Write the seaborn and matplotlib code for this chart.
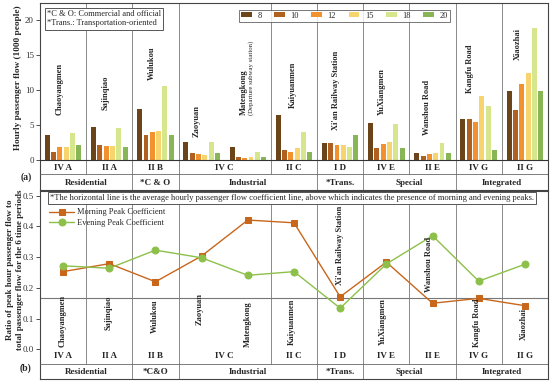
import numpy as np
import pandas as pd
import matplotlib
matplotlib.use("Agg")
import matplotlib.pyplot as plt
import seaborn as sns

# ---------------- data ----------------
stations = ["Chaoyangmen", "Sajinqiao", "Wulukou", "Zaoyuan", "Matengkong", "Kaiyuanmen",
            "Xi'an Railway Station", "YuXiangmen", "Wanshou Road", "Kangfu Road", "Xiaozhai"]
station_types = ["IV A", "II A", "II B", "IV C", "IV C", "II C", "I D", "IV E", "II E", "IV G", "II G"]
station_cats_a = ["Residential", "Residential", "*C & O", "Industrial", "Industrial", "Industrial",
                  "*Trans.", "Special", "Special", "Integrated", "Integrated"]
station_cats_b = ["Residential", "Residential", "*C&O", "Industrial", "Industrial", "Industrial",
                  "*Trans.", "Special", "Special", "Integrated", "Integrated"]
hours = ["8", "10", "12", "15", "18", "20"]
flow_8 = [3.57, 4.76, 7.24, 2.62, 1.86, 6.43, 2.48, 5.24, 1.00, 5.81, 9.81]
flow_10 = [1.19, 2.10, 3.62, 1.05, 0.48, 1.43, 2.38, 1.76, 0.52, 5.81, 7.19]
flow_12 = [1.81, 2.05, 4.00, 0.81, 0.33, 1.14, 2.14, 2.29, 0.86, 5.43, 10.90]
flow_15 = [1.81, 2.05, 4.14, 0.71, 0.48, 1.71, 2.10, 2.62, 1.00, 9.14, 12.43]
flow_18 = [3.86, 4.57, 10.57, 2.62, 1.14, 4.00, 1.90, 5.14, 2.48, 7.76, 18.90]
flow_20 = [2.14, 1.81, 3.52, 1.05, 0.48, 1.14, 3.57, 1.67, 0.95, 1.43, 9.81]
morning_coef = [0.253, 0.279, 0.220, 0.304, 0.421, 0.412, 0.171, 0.284, 0.150, 0.166, 0.142]
evening_coef = [0.272, 0.264, 0.323, 0.298, 0.241, 0.253, 0.134, 0.278, 0.370, 0.222, 0.277]
average_coef = 0.168

note_a = "*C & O: Commercial and official\n*Trans.: Transportation-oriented"
note_b = ("*The horizontal line is the average hourly passenger flow coefficient line, "
          "above which indicates the presence of morning and evening peaks.")

# label placement (layout)
name_pos_a = [(-0.07, 6.4), (-0.08, 7.1), (-0.08, 11.4), (-0.1, 3.3), (-0.08, 6.4), (-0.03, 7.4),
              (-0.1, 4.3), (-0.1, 6.4), (-0.13, 3.6), (-0.19, 9.6), (-0.15, 14.3)]
name_pos_b = [(0.0, 0.008), (-0.01, 0.063), (-0.01, 0.053), (-0.04, 0.08), (0.0, 0.008), (-0.05, 0.014),
              (-0.01, 0.21), (-0.07, 0.014), (-0.07, 0.188), (-0.04, 0.008), (-0.03, 0.03)]

bar_colors = ["#6B4419", "#B0601F", "#F2922E", "#F7D46E", "#D6E68C", "#88B656"]
c_morning = "#C8661C"
c_evening = "#8DC04A"

# ---------------- style ----------------
sns.set_theme(style="white")
plt.rcParams["font.family"] = ["Liberation Serif", "DejaVu Serif"]

fig = plt.figure(figsize=(5.5, 3.84), dpi=100)
ax1 = fig.add_axes([40 / 550, 1 - 190 / 384, 508 / 550, 187 / 384])
ax2 = fig.add_axes([40 / 550, 1 - 379 / 384, 508 / 550, 188 / 384])

FS = 6.5
FN = 6.0
grey = "#8a8a8a"

# ---------------- top panel ----------------
rows = []
for h, vals in zip(hours, [flow_8, flow_10, flow_12, flow_15, flow_18, flow_20]):
    for s, v in zip(stations, vals):
        rows.append({"station": s, "hour": h, "flow": v})
df = pd.DataFrame(rows)
sns.barplot(data=df, x="station", y="flow", hue="hour", order=stations, hue_order=hours,
            palette=bar_colors, width=0.82, gap=0.22, saturation=1, linewidth=0,
            errorbar=None, ax=ax1)

ylo1, yhi1 = -30 / 7, 157 / 7
sep1, grp1, cat1 = -2.0, -1.14, -3.29


def decorate(ax, ylo, yhi, sep, grp_y, cat_y, cats, name_pos, zero_line):
    ax.set_xlim(-0.5, 10.5)
    ax.set_ylim(ylo, yhi)
    ax.set_xticks([])
    ax.set_xlabel("")
    ax.set_ylabel("")
    for sp in ax.spines.values():
        sp.set_color("#444444")
        sp.set_linewidth(0.8)
    ax.tick_params(axis="y", direction="out", length=3, width=0.6, labelsize=FS, pad=1.5,
                   left=True, colors="#333333")
    if zero_line:
        ax.axhline(0, color="#333333", lw=0.8, zorder=3)
    ax.axhline(sep, color="#666666", lw=0.6, zorder=3)
    n = len(stations)
    for i in range(n - 1):
        if station_types[i] != station_types[i + 1]:
            low = ylo if cats[i] != cats[i + 1] else sep
            ax.vlines(i + 0.5, low, yhi, color=grey, lw=0.7, zorder=0.5)
    i = 0
    while i < n:
        j = i
        while j + 1 < n and station_types[j + 1] == station_types[i]:
            j += 1
        ax.text((i + j) / 2, grp_y, station_types[i], ha="center", va="center",
                fontsize=FS, fontweight="bold")
        i = j + 1
    i = 0
    while i < n:
        j = i
        while j + 1 < n and cats[j + 1] == cats[i]:
            j += 1
        ax.text((i + j) / 2, cat_y, cats[i], ha="center", va="center",
                fontsize=FS, fontweight="bold")
        i = j + 1
    for k, (s, (dx, y)) in enumerate(zip(stations, name_pos)):
        ax.text(k + dx, y, s, rotation=90, ha="center", va="bottom", fontsize=FN,
                fontweight="bold", zorder=4)
        if s == "Matengkong" and zero_line:
            ax.text(k + dx + 0.16, y, "(Departure subway station)", rotation=90, ha="center",
                    va="bottom", fontsize=4.9, zorder=4)


decorate(ax1, ylo1, yhi1, sep1, grp1, cat1, station_cats_a, name_pos_a, True)
ax1.set_yticks([0, 5, 10, 15, 20])

handles, labels = ax1.get_legend_handles_labels()
ax1.legend(handles, labels, ncol=6, loc="upper left", bbox_to_anchor=(0.392, 0.965),
           frameon=True, fancybox=False, edgecolor="#555555", fontsize=6,
           handlelength=1.3, handleheight=0.55, columnspacing=1.5, handletextpad=0.65,
           borderpad=0.25, borderaxespad=0)
ax1.get_legend().get_frame().set_linewidth(0.7)

ax1.text(0.014, 0.963, note_a, transform=ax1.transAxes, ha="left", va="top", fontsize=6,
         linespacing=1.25, zorder=5,
         bbox=dict(boxstyle="square,pad=0.25", fc="white", ec="#555555", lw=0.7))

# ---------------- bottom panel ----------------
idx = np.arange(len(stations))
sns.lineplot(x=idx, y=morning_coef, ax=ax2, color=c_morning, marker="s", markersize=4.5,
             markeredgecolor=c_morning, lw=1.0, label="Morning Peak Coefficient", zorder=4)
sns.lineplot(x=idx, y=evening_coef, ax=ax2, color=c_evening, marker="o", markersize=5,
             markeredgecolor=c_evening, lw=1.0, label="Evening Peak Coefficient", zorder=4)
ax2.axhline(average_coef, color="#777777", lw=0.8, zorder=2)

ylo2, yhi2 = -0.0967, 0.5156
decorate(ax2, ylo2, yhi2, -0.048, -0.022, -0.074, station_cats_b, name_pos_b, False)
ax2.set_yticks([0.0, 0.1, 0.2, 0.3, 0.4, 0.5])
ax2.set_yticklabels(["0.0", "0.1", "0.2", "0.3", "0.4", "0.5"])
ax2.legend(loc="upper left", bbox_to_anchor=(0.012, 0.925), frameon=False, fontsize=6,
           handlelength=3.0, handletextpad=0.3, labelspacing=0.3, borderaxespad=0)

ax2.text(0.0197, 0.985, note_b, transform=ax2.transAxes, ha="left", va="top", fontsize=6.15,
         zorder=5, bbox=dict(boxstyle="square,pad=0.2", fc="white", ec="#555555", lw=0.7))

# ---------------- figure labels ----------------
fig.text(18 / 550, 1 - 78 / 384, "Hourly passenger flow (1000 people)", rotation=90,
         ha="center", va="center", fontsize=6.7, fontweight="bold")
fig.text(15 / 550, 1 - 270 / 384,
         "Ratio of peak hour passenger flow to\ntotal passenger flow for the 6 time periods",
         rotation=90, ha="center", va="center", fontsize=6.5, fontweight="bold", linespacing=1.3)
fig.text(26 / 550, 1 - 177 / 384, "(a)", ha="center", va="center", fontsize=7, fontweight="bold")
fig.text(26 / 550, 1 - 368 / 384, "(b)", ha="center", va="center", fontsize=7, fontweight="bold")

fig.savefig("out.png", dpi=100)
